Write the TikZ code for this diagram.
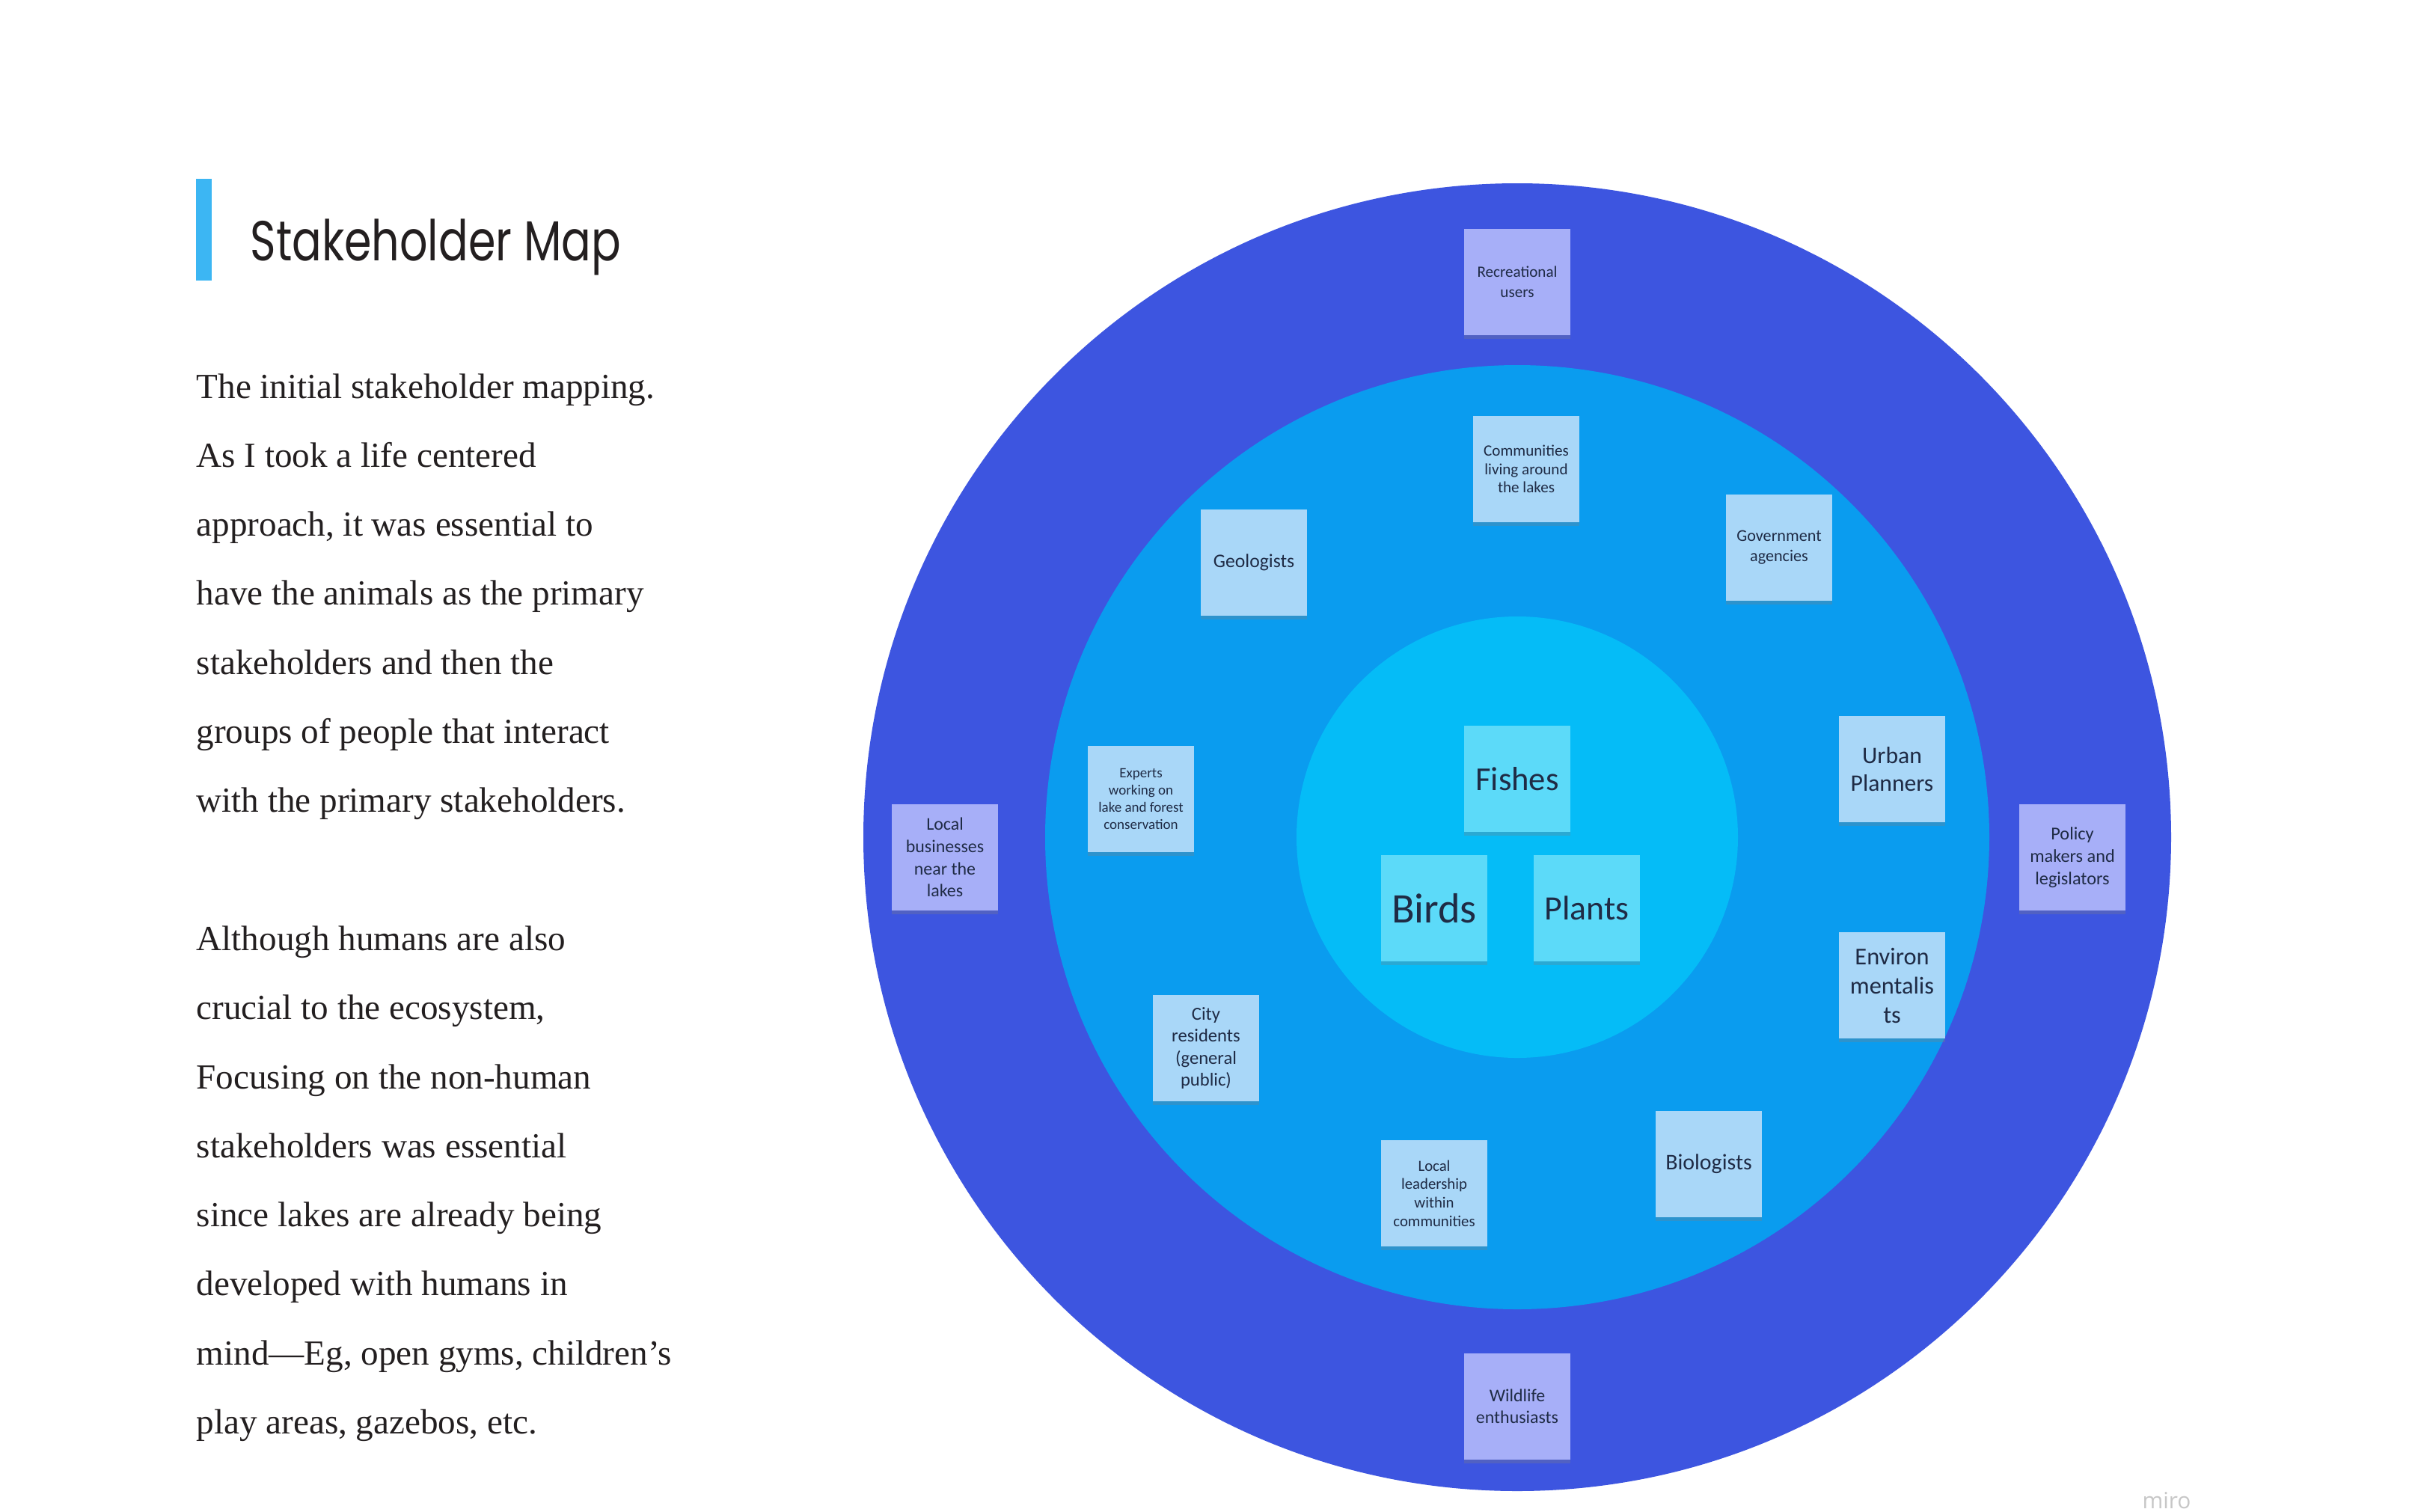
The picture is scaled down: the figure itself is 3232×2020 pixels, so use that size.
\documentclass[tikz,border=0pt]{standalone}
\usepackage{fontspec}
\setmainfont{Liberation Serif}
\newfontfamily\notefont{Carlito}
\newfontfamily\titlefont{Poppins}
\newfontfamily\logofont{Open Sans}
\usetikzlibrary{shadows}
\definecolor{outerring}{HTML}{3D55E0}
\definecolor{midring}{HTML}{0A9CEF}
\definecolor{innerring}{HTML}{05BCF7}
\definecolor{noteouter}{HTML}{A7AFF8}
\definecolor{notemid}{HTML}{A9D7F8}
\definecolor{noteinner}{HTML}{5CDAF9}
\definecolor{notetext}{HTML}{1F2B45}
\definecolor{titlebar}{HTML}{3CB6F3}
\definecolor{bodytext}{HTML}{231F20}
\tikzset{
  note/.style={minimum width=1.42cm, minimum height=1.42cm, inner sep=0pt,
    align=center, text=notetext,
    drop shadow={shadow xshift=0pt, shadow yshift=-0.05cm, opacity=0.3}},
  outernote/.style={note, fill=noteouter},
  midnote/.style={note, fill=notemid},
  innernote/.style={note, fill=noteinner},
  bodyline/.style={anchor=base west, inner sep=0pt, text=bodytext,
    font=\fontsize{13.4}{16}\selectfont},
  ring/.style={draw=none}
}
\newcommand{\nf}[2]{\notefont\fontsize{#1}{#2}\selectfont}
\begin{document}
\begin{tikzpicture}[x=0.01cm, y=-0.01cm]
\useasboundingbox (0,0) rectangle (3232,2020);
\fill[white] (0,0) rectangle (3232,2020);
% rings
\fill[outerring] (2028,1119) circle[radius=874];
\fill[midring] (2028,1119) circle[radius=631];
\fill[innerring] (2028,1119) circle[radius=295];
% title
\fill[titlebar] (262,239) rectangle (283,375);
\node[anchor=base west, inner sep=0pt, text=bodytext] (title) at (334,348)
  {\titlefont\fontsize{21.4}{24}\selectfont\scalebox{0.78}[1]{Stakeholder Map}};
% body text
\node[bodyline] (l1) at (262,532.0) {The initial stakeholder mapping.};
\node[bodyline] (l2) at (262,624.3) {As I took a life centered};
\node[bodyline] (l3) at (262,716.6) {approach, it was essential to};
\node[bodyline] (l4) at (262,808.9) {have the animals as the primary};
\node[bodyline] (l5) at (262,901.2) {stakeholders and then the};
\node[bodyline] (l6) at (262,993.5) {groups of people that interact};
\node[bodyline] (l7) at (262,1085.8) {with the primary stakeholders.};
\node[bodyline] (l8) at (262,1270.4) {Although humans are also};
\node[bodyline] (l9) at (262,1362.7) {crucial to the ecosystem,};
\node[bodyline] (l10) at (262,1455.0) {Focusing on the non-human};
\node[bodyline] (l11) at (262,1547.3) {stakeholders was essential};
\node[bodyline] (l12) at (262,1639.6) {since lakes are already being};
\node[bodyline] (l13) at (262,1731.9) {developed with humans in};
\node[bodyline] (l14) at (262,1824.2) {mind—Eg, open gyms, children’s};
\node[bodyline] (l15) at (262,1916.5) {play areas, gazebos, etc.};
% outer ring notes
\node[outernote, font=\nf{6}{7.6}] (recreational) at (2028,377) {Recreational\\users};
\node[outernote, font=\nf{6.8}{8.4}] (business) at (1263,1146) {Local\\businesses\\near the\\lakes};
\node[outernote, font=\nf{6.9}{8.5}] (policy) at (2770,1146) {Policy\\makers and\\legislators};
\node[outernote, font=\nf{6.8}{8.2}] (wildlife) at (2028,1880) {Wildlife\\enthusiasts};
% middle ring notes
\node[midnote, font=\nf{6}{7}] (communities) at (2040,627) {Communities\\living around\\the lakes};
\node[midnote, font=\nf{7.3}{8.5}] (geologists) at (1676,752) {Geologists};
\node[midnote, font=\nf{6.3}{7.6}] (government) at (2378,732) {Government\\agencies};
\node[midnote, font=\nf{5.4}{6.5}] (experts) at (1525,1068) {Experts\\working on\\lake and forest\\conservation};
\node[midnote, font=\nf{9}{10.5}] (urban) at (2529,1028) {Urban\\Planners};
\node[midnote, font=\nf{9.2}{11.1}] (environ) at (2529,1317) {Environ\\mentalis\\ts};
\node[midnote, font=\nf{7}{8.4}] (city) at (1612,1401) {City\\residents\\(general\\public)};
\node[midnote, font=\nf{5.9}{7}] (leadership) at (1917,1595) {Local\\leadership\\within\\communities};
\node[midnote, font=\nf{8.5}{10}] (biologists) at (2284,1556) {Biologists};
% inner notes
\node[innernote, font=\nf{12.7}{15}] (fishes) at (2028,1041) {Fishes};
\node[innernote, font=\nf{16}{19}] (birds) at (1917,1214) {Birds};
\node[innernote, font=\nf{13}{15}] (plants) at (2121,1214) {Plants};
% logo
\node[anchor=base, inner sep=0pt, text=black!22, font=\logofont\fontsize{8.5}{10}\selectfont] (miro) at (2896,2016) {miro};
\end{tikzpicture}
\end{document}
